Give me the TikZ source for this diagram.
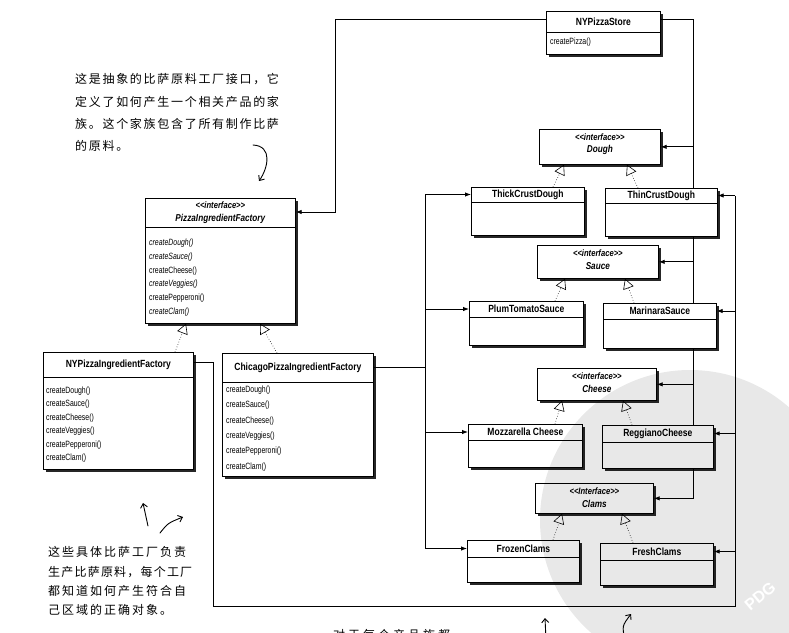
\documentclass[tikz,border=0pt]{standalone}
\usepackage{fontspec}
\setmainfont{Liberation Sans}
\newfontfamily\umlfont[FakeStretch=0.82]{Liberation Sans}
\newfontfamily\umlnarrow[FakeStretch=0.76]{Liberation Sans}
\newfontfamily\cjk{Noto Sans CJK SC}
\usetikzlibrary{arrows.meta,shadows,backgrounds}

% hand-lettered notes: CJK characters with a little extra tracking
\newdimen\hwgap
\hwgap=1.7pt
\let\hwend\relax
\def\hwloop#1{\ifx#1\hwend\else#1\kern\hwgap\relax\expandafter\hwloop\fi}
\newcommand\hw[1]{\hwloop#1\hwend}

\tikzset{
  cls/.style={draw, fill=white, anchor=north west, inner sep=0pt, line width=0.7pt,
    drop shadow={shadow xshift=3pt, shadow yshift=-3pt, fill=black, opacity=0.85}},
  sepline/.style={line width=0.5pt},
  ttl/.style={font=\umlfont\bfseries\fontsize{10.4}{12}\selectfont, inner sep=0pt},
  ster/.style={font=\umlfont\bfseries\itshape\fontsize{9.3}{11}\selectfont, inner sep=0pt},
  ifc/.style={font=\umlfont\bfseries\itshape\fontsize{10}{12}\selectfont, inner sep=0pt},
  meth/.style={font=\umlnarrow\fontsize{9.1}{10}\selectfont, anchor=west, inner sep=0pt},
  imeth/.style={font=\umlnarrow\itshape\fontsize{9.1}{10}\selectfont, anchor=west, inner sep=0pt},
  wire/.style={line width=0.9pt},
  assoc/.style={line width=0.9pt, -{Latex[length=6pt,width=4.5pt]}},
  realize/.style={line width=0.6pt, dotted, -{Triangle[open,length=10pt,width=11pt]}},
  note/.style={font=\cjk\fontsize{12}{14}\selectfont, inner sep=0pt, anchor=base west},
  hand/.style={line width=0.9pt, line cap=round, -{Straight Barb[length=4pt,width=7pt]}},
}

% class box: name, x, y, width, height, title-row height, title
\newcommand\klass[7]{%
  \node[cls, minimum width=#4, minimum height=#5] (#1) at (#2,#3) {};
  \draw[sepline] ([yshift=-#6pt]#1.north west) -- ([yshift=-#6pt]#1.north east);
  \node[ttl] (#1-t) at ([yshift=-#6pt/2]#1.north) {#7};
}
% interface box: name, x, y, width, height, stereotype, name
\newcommand\ifacebox[7]{%
  \node[cls, minimum width=#4, minimum height=#5] (#1) at (#2,#3) {};
  \node[ster] (#1-s) at ([yshift=-8.5pt]#1.north) {#6};
  \node[ifc] (#1-t) at ([yshift=-21pt]#1.north) {#7};
}

\begin{document}
\begin{tikzpicture}[x=1pt, y=-1pt]
\useasboundingbox (0,0) rectangle (789,632);

% ---------- client ----------
\klass{store}{546}{11}{114}{43}{21}{NYPizzaStore}
\node[meth] (store-m) at (550,42) {createPizza()};

% ---------- abstract factory ----------
\node[cls, minimum width=150, minimum height=125] (pif) at (145,198) {};
\draw[sepline] ([yshift=-29pt]pif.north west) -- ([yshift=-29pt]pif.north east);
\node[ster] (pif-s) at ([yshift=-7.5pt]pif.north) {<<interface>>};
\node[ifc] (pif-t) at ([yshift=-20.5pt]pif.north) {PizzaIngredientFactory};
\node[imeth] (pif-m1) at (149,243) {createDough()};
\node[imeth] (pif-m2) at (149,257) {createSauce()};
\node[meth]  (pif-m3) at (149,271) {createCheese()};
\node[imeth] (pif-m4) at (149,284.5) {createVeggies()};
\node[meth]  (pif-m5) at (149,298) {createPepperoni()};
\node[imeth] (pif-m6) at (149,312) {createClam()};

% ---------- concrete factories ----------
\klass{nyf}{43}{352}{150}{117}{25}{NYPizzaIngredientFactory}
\foreach \m [count=\i from 0] in {createDough(),createSauce(),createCheese(),createVeggies(),createPepperoni(),createClam()}
  \node[meth] (nyf-m\i) at (46,391+13.5*\i) {\m};

\klass{chi}{222}{353}{151}{123}{29}{ChicagoPizzaIngredientFactory}
\foreach \m [count=\i from 0] in {createDough(),createSauce(),createCheese(),createVeggies(),createPepperoni(),createClam()}
  \node[meth] (chi-m\i) at (226,390+15.4*\i) {\m};

% ---------- products ----------
\ifacebox{dough}{539}{129}{121}{35}{<<interface>>}{Dough}
\klass{thick}{471}{187}{113}{48}{15}{ThickCrustDough}
\klass{thin}{605}{188}{112}{48}{15}{ThinCrustDough}

\ifacebox{sauce}{537}{245}{121}{33}{<<interface>>}{Sauce}
\klass{plum}{469}{301}{114}{44}{16}{PlumTomatoSauce}
\klass{marinara}{603}{303}{113}{45}{16}{MarinaraSauce}

\ifacebox{cheese}{537}{368}{119}{32}{<<interface>>}{Cheese}
\klass{mozz}{468}{424}{114}{43}{16}{Mozzarella Cheese}
\klass{reggiano}{602}{425}{111}{43}{17}{ReggianoCheese}

\ifacebox{clams}{535}{483}{118}{30}{<<Interface>>}{Clams}
\klass{frozen}{467}{540}{112}{42}{17}{FrozenClams}
\klass{fresh}{600}{543}{113}{42}{17}{FreshClams}

% ---------- connectors (behind the boxes) ----------
\begin{pgfonlayer}{background}
  % store -> abstract factory
  \coordinate (storeL) at ([yshift=-8pt]store.north west);
  \coordinate (bendA) at (335,212);
  \draw[assoc] (storeL) -| (bendA) -- (pif.east |- bendA);

  % store -> product interfaces
  \coordinate (storeR) at ([yshift=-8pt]store.north east);
  \coordinate (busR) at (693,0);
  \draw[assoc] (storeR) -| (busR |- clams.east) -- (clams.east);
  \foreach \n in {dough,sauce,cheese}
    \draw[assoc] (busR |- \n.east) -- (\n.east);

  % Chicago factory -> its products
  \coordinate (chiR) at ([yshift=-14.5pt]chi.north east);
  \coordinate (busC) at (425,0);
  \draw[wire] (chiR) -- (busC |- chiR);
  \draw[wire] (busC |- thick-t) -- (busC |- frozen-t);
  \foreach \n in {thick,plum,mozz,frozen}
    \draw[assoc] (busC |- \n-t) -- (\n.west |- \n-t);

  % NY factory -> its products
  \coordinate (nyR) at ([yshift=-10pt]nyf.north east);
  \coordinate (busL) at (213,606);
  \coordinate (busB) at (735,606);
  \draw[wire] (nyR) -| (busL) -- (busB) -- (busB |- thin-t);
  \foreach \n in {thin,marinara,reggiano,fresh}
    \draw[assoc] (busB |- \n-t) -- (\n.east |- \n-t);
\end{pgfonlayer}

% ---------- realizations ----------
\draw[realize] (175,0 |- nyf.north) -- (186,0 |- pif.south);
\draw[realize] (277,0 |- chi.north) -- (260,0 |- pif.south);
\draw[realize] (553,0 |- thick.north) -- (564,0 |- dough.south);
\draw[realize] (638,0 |- thin.north) -- (627,0 |- dough.south);
\draw[realize] (555,0 |- plum.north) -- (565,0 |- sauce.south);
\draw[realize] (634,0 |- marinara.north) -- (625,0 |- sauce.south);
\draw[realize] (555,0 |- mozz.north) -- (562,0 |- cheese.south);
\draw[realize] (632,0 |- reggiano.north) -- (623,0 |- cheese.south);
\draw[realize] (553,0 |- frozen.north) -- (562,0 |- clams.south);
\draw[realize] (633,0 |- fresh.north) -- (622,0 |- clams.south);

% ---------- hand-written notes ----------
\node[note] (noteA1) at (75,83.5) {\hw{这是抽象的比萨原料工厂接口，它}};
\node[note] (noteA2) at (75,106.5) {\hw{定义了如何产生一个相关产品的家}};
\node[note] (noteA3) at (75,128.5) {\hw{族。这个家族包含了所有制作比萨}};
\node[note] (noteA4) at (75,150.5) {\hw{的原料。}};
\draw[hand] (253,145) .. controls (273,146) and (268,168) .. (259,181);

\node[note] (noteB1) at (48,556.5) {\hwgap=2pt\hw{这些具体比萨工厂负责}};
\node[note] (noteB2) at (48,576) {\hwgap=1.2pt\hw{生产比萨原料，每个工厂}};
\node[note] (noteB3) at (48,595) {\hwgap=2pt\hw{都知道如何产生符合自}};
\node[note] (noteB4) at (48,614) {\hwgap=2pt\hw{己区域的正确对象。}};
\draw[hand] (148,526) -- (143,503);
\draw[hand] (160,533) .. controls (168,523) .. (183,517);

\node[note] (noteC1) at (333,639) {\hwgap=3pt\hw{对于每个产品族都}};
\draw[hand] (546,640) -- (545,618);
\draw[hand] (625,640) .. controls (622,626) .. (631,614);

% ---------- stamp ----------
\fill[black, fill opacity=0.09] (690,520) circle[radius=150];
\node[rotate=40, text=white, font=\bfseries\fontsize{16}{16}\selectfont] (stamp) at (760,596) {PDG};
\end{tikzpicture}
\end{document}
